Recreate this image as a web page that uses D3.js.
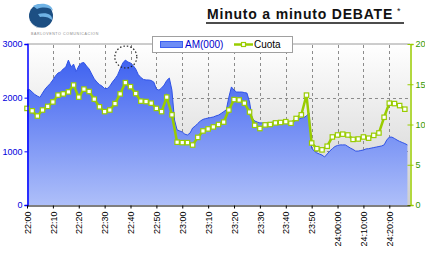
<!DOCTYPE html>
<html>
<head>
<meta charset="utf-8">
<script src="https://cdn.jsdelivr.net/npm/d3@7"></script>
<style>
body { margin: 0; background: #fff; }
svg { display: block; font-family: Arial, "Liberation Sans", sans-serif; }
</style>
</head>
<body>
<script>
// tick labels (one every 10 minutes)
var tickLabels = ["22:00", "22:10", "22:20", "22:30", "22:40", "22:50", "23:00", "23:10",
    "23:20", "23:30", "23:40", "23:50", "24:00:00", "24:10:00", "24:20:00"];

// audiencia media (miles), one value per minute from 22:00
var amValues = [
    2140, 2150, 2105, 2060, 2030, 2005, 2085, 2160, 2215, 2265,
    2330, 2405, 2460, 2480, 2535, 2570, 2700, 2575, 2625, 2485,
    2590, 2645, 2655, 2590, 2535, 2440, 2350, 2290, 2245, 2215,
    2170, 2170, 2215, 2290, 2350, 2420, 2535, 2645, 2700, 2665,
    2645, 2600, 2535, 2430, 2375, 2340, 2330, 2330, 2320, 2290,
    2160, 2140, 2180, 2235, 2320, 2365, 2140, 1585, 1400, 1380,
    1360, 1320, 1305, 1340, 1435, 1470, 1520, 1565, 1595, 1610,
    1620, 1630, 1640, 1660, 1675, 1705, 1740, 1770, 2010, 2200,
    2140, 2105, 2105, 2105, 2095, 2085, 1920, 1620, 1565, 1545,
    1530, 1530, 1530, 1530, 1535, 1545, 1545, 1545, 1545, 1530,
    1530, 1530, 1510, 1545, 1585, 1600, 1620, 1630, 1660, 1715,
    1060, 1005, 970, 950, 930, 895, 950, 1005, 1050, 1090,
    1110, 1120, 1120, 1120, 1090, 1060, 1035, 1005, 1005, 1015,
    1025, 1045, 1050, 1060, 1070, 1080, 1090, 1100, 1120, 1210,
    1265, 1265, 1240, 1210, 1185, 1165, 1145, 1120
];

// cuota (%), one value every 2 minutes from 22:00
var cuotaStep = 2;
var cuotaValues = [
    12.0, 11.7, 11.05, 11.8, 12.25, 12.8, 13.65, 13.8, 14.05, 14.9,
    13.4, 14.4, 14.1, 13.15, 12.2, 11.6, 11.8, 12.6, 13.8, 15.2,
    14.7, 13.85, 12.9, 12.85, 12.65, 12.0, 11.6, 13.4, 11.2, 7.8,
    7.75, 7.75, 7.45, 8.4, 9.2, 9.45, 9.7, 10.0, 10.3, 11.8,
    13.1, 13.05, 12.65, 11.55, 9.9, 9.5, 9.95, 10.0, 10.2, 10.25,
    10.35, 10.15, 10.75, 11.2, 13.65, 7.7, 7.0, 6.85, 7.3, 8.45,
    8.7, 8.8, 8.7, 8.15, 8.2, 8.45, 8.3, 8.65, 8.95, 10.9,
    12.65, 12.6, 12.35, 11.9
];

var leftTicks = [0, 1000, 2000, 3000];
var rightTicks = [0, 5, 10, 15, 20];

var W = 425, H = 260;
var svg = d3.select("body").append("svg").attr("width", W).attr("height", H);

var x = d3.scaleLinear().domain([0, 148]).range([27, 410]);
var yL = d3.scaleLinear().domain([0, 3000]).range([205, 44]);
var yR = d3.scaleLinear().domain([0, 20]).range([205, 44]);

var defs = svg.append("defs");
var bg = defs.append("linearGradient").attr("id", "bg")
    .attr("x1", 0).attr("y1", 0).attr("x2", 0).attr("y2", 1);
bg.append("stop").attr("offset", "0%").attr("stop-color", "#ffffff");
bg.append("stop").attr("offset", "100%").attr("stop-color", "#cfcfcf");

var af = defs.append("linearGradient").attr("id", "af")
    .attr("gradientUnits", "userSpaceOnUse")
    .attr("x1", 0).attr("y1", 55).attr("x2", 0).attr("y2", 205);
af.append("stop").attr("offset", "0%").attr("stop-color", "#3b5ff0");
af.append("stop").attr("offset", "100%").attr("stop-color", "#aebff9");

// plot background
svg.append("rect").attr("x", 27).attr("y", 44).attr("width", 383).attr("height", 161)
    .attr("fill", "url(#bg)");
svg.append("line").attr("x1", 27).attr("x2", 410).attr("y1", 44).attr("y2", 44)
    .attr("stroke", "#9a9a9a");

// grid
svg.append("g").selectAll("line").data(d3.range(1, tickLabels.length)).enter().append("line")
    .attr("x1", function(d) { return Math.round(x(d * 10)) + 0.5; })
    .attr("x2", function(d) { return Math.round(x(d * 10)) + 0.5; })
    .attr("y1", 45).attr("y2", 205)
    .attr("stroke", "#8c8c8c").attr("stroke-dasharray", "3,3");
svg.append("g").selectAll("line").data([1000, 2000]).enter().append("line")
    .attr("x1", 27).attr("x2", 410)
    .attr("y1", function(d) { return Math.round(yL(d)) + 0.5; })
    .attr("y2", function(d) { return Math.round(yL(d)) + 0.5; })
    .attr("stroke", "#8c8c8c").attr("stroke-dasharray", "3,3");

// AM area
var area = d3.area()
    .x(function(d, i) { return x(i); })
    .y0(yL(0))
    .y1(function(d) { return yL(d); });
svg.append("path").datum(amValues)
    .attr("d", area)
    .attr("fill", "url(#af)")
    .attr("stroke", "none");
svg.append("path").datum(amValues)
    .attr("d", d3.line().x(function(d, i) { return x(i); }).y(function(d) { return yL(d); }))
    .attr("fill", "none").attr("stroke", "#2f52e6").attr("stroke-width", 1);

// cuota line
var line = d3.line()
    .x(function(d, i) { return x(i * cuotaStep); })
    .y(function(d) { return yR(d); });
svg.append("path").datum(cuotaValues)
    .attr("d", line)
    .attr("fill", "none").attr("stroke", "#99cc00").attr("stroke-width", 2.5);
svg.append("g").selectAll("rect").data(cuotaValues).enter().append("rect")
    .attr("x", function(d, i) { return x(i * cuotaStep) - 2.2; })
    .attr("y", function(d) { return yR(d) - 2.2; })
    .attr("width", 4.4).attr("height", 4.4)
    .attr("fill", "#fff").attr("stroke", "#99cc00").attr("stroke-width", 1.2);

// dotted circle annotation
svg.append("circle").attr("cx", x(38) + 0.5).attr("cy", 57).attr("r", 11)
    .attr("fill", "none").attr("stroke", "#222").attr("stroke-width", 1.2)
    .attr("stroke-dasharray", "1.5,2");

// left axis
var gl = svg.append("g").attr("transform", "translate(27.5,0)")
    .call(d3.axisLeft(yL).tickValues(leftTicks).tickFormat(d3.format("d")).tickSize(3).tickPadding(2));
gl.select(".domain").attr("stroke", "#0000ff").attr("stroke-width", 1.5);
gl.selectAll(".tick line").attr("stroke", "#0000ff");
gl.selectAll("text").attr("fill", "#0000dd").style("font-size", "9px");

// right axis
var gr = svg.append("g").attr("transform", "translate(410.5,0)")
    .call(d3.axisRight(yR).tickValues(rightTicks).tickSize(3).tickPadding(2));
gr.select(".domain").attr("stroke", "#99cc00").attr("stroke-width", 1.5);
gr.selectAll(".tick line").attr("stroke", "#99cc00").attr("x1", -3);
gr.selectAll("text").attr("fill", "#339900").style("font-size", "9px");

// bottom axis
var gb = svg.append("g").attr("transform", "translate(0,205.5)")
    .call(d3.axisBottom(x).tickValues(d3.range(0, tickLabels.length).map(function(i) { return i * 10; }))
        .tickFormat(function(d) { return tickLabels[d / 10]; }).tickSize(3).tickSizeOuter(0));
gb.select(".domain").attr("stroke", "#000").attr("stroke-width", 1.2);
gb.selectAll(".tick line").attr("stroke", "#000");
gb.selectAll("text")
    .attr("transform", "rotate(-90)")
    .attr("text-anchor", "end")
    .attr("x", -6).attr("y", 0).attr("dy", "0.35em")
    .attr("fill", "#000").style("font-size", "9px");

// legend
var lg = svg.append("g");
lg.append("rect").attr("x", 152.5).attr("y", 36.5).attr("width", 140).attr("height", 16)
    .attr("fill", "#fff").attr("stroke", "#a0a0a0");
lg.append("rect").attr("x", 160.5).attr("y", 41.5).attr("width", 22).attr("height", 6)
    .attr("fill", "#6d8df5").attr("stroke", "#3b5ff0");
lg.append("text").attr("x", 185).attr("y", 48).attr("fill", "#0000cc")
    .style("font-size", "10px").text("AM(000)");
lg.append("line").attr("x1", 234).attr("x2", 253).attr("y1", 44.5).attr("y2", 44.5)
    .attr("stroke", "#99cc00").attr("stroke-width", 2.5);
lg.append("rect").attr("x", 241.5).attr("y", 42.5).attr("width", 4).attr("height", 4)
    .attr("fill", "#fff").attr("stroke", "#99cc00").attr("stroke-width", 1.2);
lg.append("text").attr("x", 254).attr("y", 48).attr("fill", "#000")
    .style("font-size", "10px").text("Cuota");

// title
svg.append("text").attr("x", 207).attr("y", 19)
    .style("font-size", "14px").style("font-weight", "bold").style("letter-spacing", "0.8px")
    .attr("fill", "#111").text("Minuto a minuto DEBATE");
svg.append("text").attr("x", 397).attr("y", 14)
    .style("font-size", "9px").attr("fill", "#111").text("*");
svg.append("line").attr("x1", 206).attr("x2", 404).attr("y1", 23).attr("y2", 23)
    .attr("stroke", "#111").attr("stroke-width", 1.5);

// logo
var logo = svg.append("g");
logo.append("circle").attr("cx", 41).attr("cy", 16).attr("r", 12).attr("fill", "#1c4f83");
logo.append("path").attr("d", "M33,6 C40,2 52,3 53,11 C51,8 44,6 37,9 Z").attr("fill", "#6fb3e6");
logo.append("path").attr("d", "M38,14 C46,12 53,14 52,20 C49,17 44,16 40,17 Z").attr("fill", "#6fb3e6");
logo.append("path").attr("d", "M29,18 C31,25 37,28 45,28 C38,29 30,26 29,18 Z").attr("fill", "#ffffff");
logo.append("text").attr("x", 31).attr("y", 35).attr("fill", "#888")
    .style("font-size", "3.6px").style("letter-spacing", "0.6px").text("BARLOVENTO COMUNICACION");
</script>
</body>
</html>
